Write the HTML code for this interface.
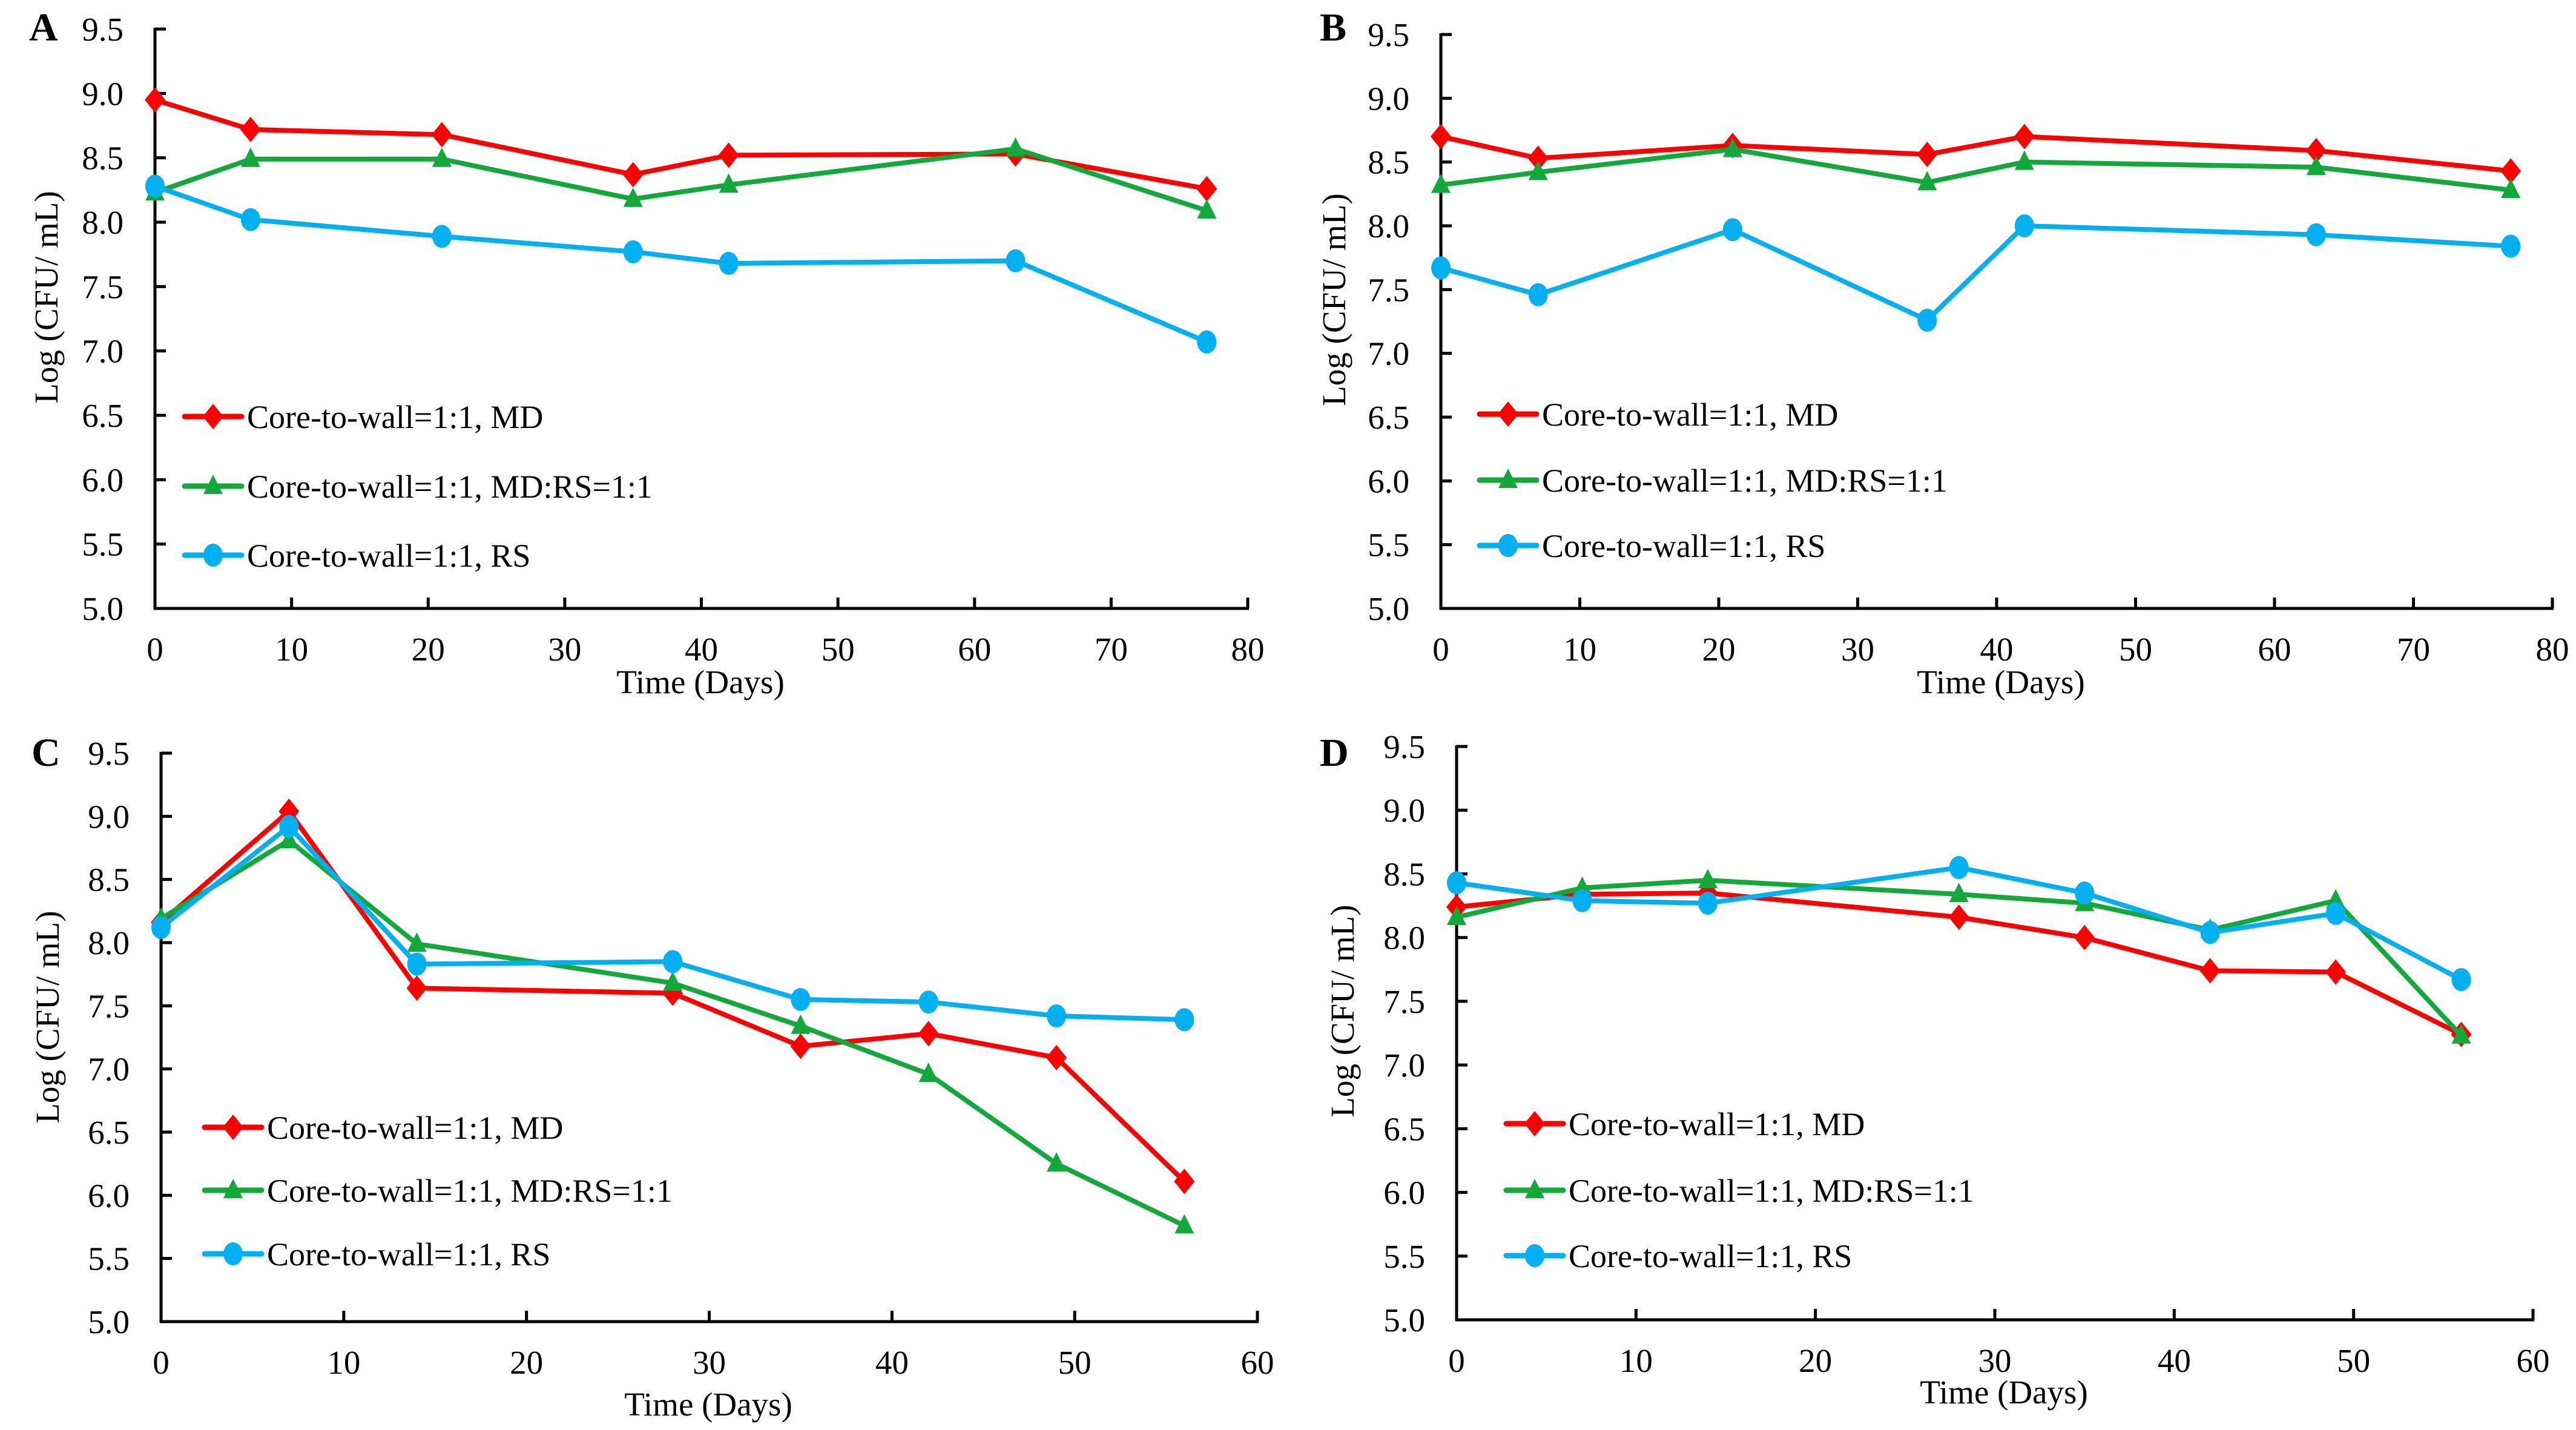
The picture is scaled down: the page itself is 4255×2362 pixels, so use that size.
<!DOCTYPE html>
<html><head><meta charset="utf-8">
<style>
html,body{margin:0;padding:0;background:#fff;}
svg{display:block;font-family:"Liberation Serif","Times New Roman",serif;}
</style></head>
<body>
<svg id="fig" width="4255" height="2362" viewBox="0 0 4255 2362" xmlns="http://www.w3.org/2000/svg"></svg>
<script>
// ---- data ----
const daysAB = [0, 7, 21, 35, 42, 63, 77];
const daysCD = [0, 7, 14, 28, 35, 42, 49, 56];
const seriesNames = ["Core-to-wall=1:1, MD", "Core-to-wall=1:1, MD:RS=1:1", "Core-to-wall=1:1, RS"];
const yTicks = [5.0, 5.5, 6.0, 6.5, 7.0, 7.5, 8.0, 8.5, 9.0, 9.5];
const xTicksAB = [0, 10, 20, 30, 40, 50, 60, 70, 80];
const xTicksCD = [0, 10, 20, 30, 40, 50, 60];
const aMD  = [8.95, 8.72, 8.68, 8.37, 8.52, 8.53, 8.26];
const aMix = [8.23, 8.49, 8.49, 8.18, 8.29, 8.57, 8.09];
const aRS  = [8.28, 8.02, 7.89, 7.77, 7.68, 7.70, 7.07];
const bMD  = [8.70, 8.53, 8.63, 8.56, 8.70, 8.59, 8.43];
const bMix = [8.32, 8.42, 8.60, 8.34, 8.50, 8.46, 8.28];
const bRS  = [7.67, 7.46, 7.97, 7.26, 8.00, 7.93, 7.84];
const cMD  = [8.16, 9.04, 7.64, 7.60, 7.18, 7.28, 7.09, 6.11];
const cMix = [8.19, 8.81, 7.99, 7.68, 7.34, 6.96, 6.25, 5.76];
const cRS  = [8.12, 8.92, 7.83, 7.85, 7.55, 7.53, 7.42, 7.39];
const dMD  = [8.24, 8.34, 8.35, 8.16, 8.00, 7.74, 7.73, 7.24];
const dMix = [8.16, 8.39, 8.45, 8.34, 8.27, 8.06, 8.29, 7.23];
const dRS  = [8.43, 8.29, 8.27, 8.55, 8.35, 8.04, 8.19, 7.67];

const NS = "http://www.w3.org/2000/svg";
const svg = document.getElementById("fig");
const COLORS = ["#ff0000", "#12a83a", "#00b0f0"];
const MARKERS = ["diamond", "triangle", "circle"];

function el(tag, attrs, parent) {
  const e = document.createElementNS(NS, tag);
  for (const k in attrs) e.setAttribute(k, attrs[k]);
  (parent || svg).appendChild(e);
  return e;
}
function marker(g, type, x, y, color) {
  let m;
  if (type === "diamond") {
    m = el("polygon", {points: `${x},${y-21} ${x+17},${y} ${x},${y+21} ${x-17},${y}`, fill: color}, g);
  } else if (type === "triangle") {
    m = el("polygon", {points: `${x},${y-19} ${x+16},${y+13} ${x-16},${y+13}`, fill: color}, g);
  } else {
    m = el("ellipse", {cx: x, cy: y, rx: 16, ry: 19, fill: color}, g);
  }
  return m;
}

const panels = [
  {id:"a", letter:"A", lx:48, ly:67, x0:256, x1:2061, xmax:80, y5:1005, y95:48, days:daysAB, xt:xTicksAB, series:[aMD,aMix,aRS],
   legX:305, legY:[688, 803, 917], ytx:95, yty:491, xtx:1157, xty:1145},
  {id:"b", letter:"B", lx:2180, ly:67, x0:2380, x1:4216, xmax:80, y5:1005, y95:57, days:daysAB, xt:xTicksAB, series:[bMD,bMix,bRS],
   legX:2444, legY:[684, 793, 901], ytx:2222, yty:495, xtx:3305, xty:1145},
  {id:"c", letter:"C", lx:52, ly:1265, x0:266, x1:2077, xmax:60, y5:2183, y95:1244, days:daysCD, xt:xTicksCD, series:[cMD,cMix,cRS],
   legX:338, legY:[1862, 1966, 2071], ytx:97, yty:1680, xtx:1170, xty:2338},
  {id:"d", letter:"D", lx:2180, ly:1265, x0:2406, x1:4184, xmax:60, y5:2180, y95:1233, days:daysCD, xt:xTicksCD, series:[dMD,dMix,dRS],
   legX:2488, legY:[1856, 1966, 2074], ytx:2236, yty:1670, xtx:3310, xty:2318}
];

panels.forEach(p => {
  const g = el("g", {});
  
  
  const xs = v => p.x0 + (v / p.xmax) * (p.x1 - p.x0);
  const ys = v => p.y5 - ((v - 5) / 4.5) * (p.y5 - p.y95);

  const lt = el("text", {x: p.lx, y: p.ly, "font-size": 66, "font-weight": "bold", fill: "#000"}, g);
  lt.textContent = p.letter;
  
  

  const ya = el("line", {x1: p.x0, y1: p.y95 - 2, x2: p.x0, y2: p.y5 + 2, stroke: "#000", "stroke-width": 5}, g);
  
  
  const xa = el("line", {x1: p.x0 - 2, y1: p.y5, x2: p.x1 + 2, y2: p.y5, stroke: "#000", "stroke-width": 5}, g);
  
  

  yTicks.forEach(t => {
    const y = ys(t);
    el("line", {x1: p.x0, y1: y, x2: p.x0 + 18, y2: y, stroke: "#000", "stroke-width": 5}, g);
    const tx = el("text", {x: p.x0 - 52, y: y + 19, "font-size": 55, "text-anchor": "end", fill: "#000"}, g);
    tx.textContent = t.toFixed(1);
    
    
  });
  p.xt.forEach(t => {
    const x = xs(t);
    el("line", {x1: x, y1: p.y5, x2: x, y2: p.y5 - 18, stroke: "#000", "stroke-width": 5}, g);
    const tx = el("text", {x: x, y: p.y5 + 86, "font-size": 55, "text-anchor": "middle", fill: "#000"}, g);
    tx.textContent = String(t);
    
    
  });

  const yt = el("text", {x: 0, y: 0, "font-size": 55, "text-anchor": "middle", fill: "#000",
    transform: `translate(${p.ytx},${p.yty}) rotate(-90)`}, g);
  yt.textContent = "Log (CFU/ mL)";
  
  
  const xt = el("text", {x: p.xtx, y: p.xty, "font-size": 55, "text-anchor": "middle", fill: "#000"}, g);
  xt.textContent = "Time (Days)";
  
  

  p.series.forEach((vals, si) => {
    const sg = el("g", {}, g);
    
    
    const pts = vals.map((v, i) => xs(p.days[i]) + "," + ys(v)).join(" ");
    el("polyline", {points: pts, fill: "none", stroke: COLORS[si], "stroke-width": 8, "stroke-linejoin": "round"}, sg);
    vals.forEach((v, i) => {
      const m = marker(sg, MARKERS[si], xs(p.days[i]), ys(v), COLORS[si]);
      
      
    });
    const lg = el("g", {}, g);
    
    
    const ly = p.legY[si];
    el("line", {x1: p.legX, y1: ly, x2: p.legX + 94, y2: ly, stroke: COLORS[si], "stroke-width": 9, "stroke-linecap": "round"}, lg);
    marker(lg, MARKERS[si], p.legX + 47, ly, COLORS[si]);
    const t = el("text", {x: p.legX + 103, y: ly + 19, "font-size": 54, fill: "#000"}, lg);
    t.textContent = seriesNames[si];
  });
});
</script>
</body></html>
